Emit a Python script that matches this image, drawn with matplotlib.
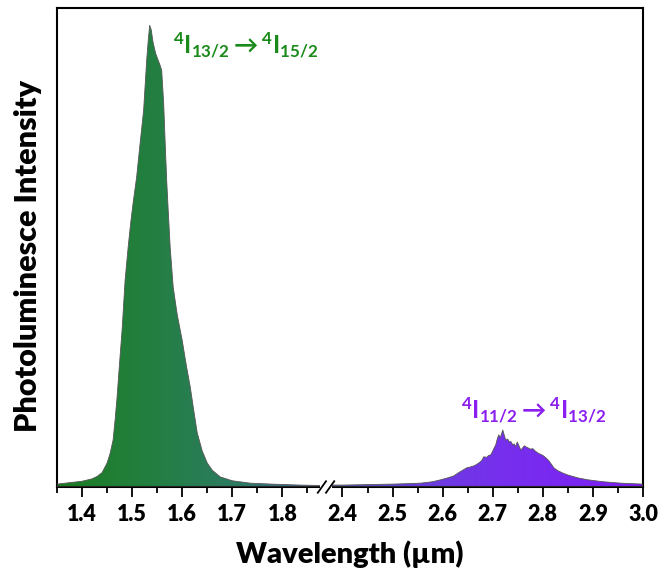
import numpy as np
import matplotlib
matplotlib.use("Agg")
import matplotlib.pyplot as plt
from matplotlib.colors import LinearSegmentedColormap
from matplotlib.patches import Rectangle

plt.rcParams['font.family'] = ['Lato', 'DejaVu Sans']
plt.rcParams['mathtext.fontset'] = 'custom'
plt.rcParams['mathtext.rm'] = 'Lato:bold'
plt.rcParams['mathtext.it'] = 'Lato:bold'
plt.rcParams['mathtext.bf'] = 'Lato:bold'
plt.rcParams['mathtext.fallback'] = 'stixsans'

# 4I13/2 -> 4I15/2 band (um, normalised intensity)
wl1 = [1.35, 1.40, 1.42, 1.43, 1.44, 1.45, 1.456, 1.462, 1.466, 1.47,
       1.475, 1.48, 1.486, 1.492, 1.497, 1.502, 1.509, 1.516, 1.523, 1.529,
       1.532, 1.535, 1.538, 1.542, 1.547, 1.552, 1.556, 1.559, 1.563, 1.566,
       1.569, 1.572, 1.576, 1.582, 1.59, 1.60, 1.608, 1.616, 1.623, 1.63,
       1.64, 1.65, 1.66, 1.676, 1.70, 1.736, 1.78, 1.836, 1.882]
int1 = [0.006, 0.012, 0.017, 0.022, 0.03, 0.05, 0.07, 0.098, 0.14, 0.188,
        0.26, 0.328, 0.432, 0.5, 0.55, 0.593, 0.647, 0.718, 0.787, 0.89,
        0.93, 0.964, 0.955, 0.927, 0.905, 0.891, 0.88, 0.87, 0.8, 0.718,
        0.64, 0.578, 0.5, 0.417, 0.36, 0.306, 0.255, 0.209, 0.16, 0.113,
        0.075, 0.05, 0.035, 0.021, 0.013, 0.008, 0.006, 0.004, 0.003]

# 4I11/2 -> 4I13/2 band
wl2 = [2.362, 2.40, 2.45, 2.50, 2.53, 2.556, 2.58, 2.596, 2.61, 2.622,
       2.632, 2.64, 2.648, 2.656, 2.662, 2.666, 2.672, 2.678, 2.682, 2.688,
       2.692, 2.696, 2.700, 2.703, 2.706, 2.709, 2.712, 2.715, 2.718, 2.720,
       2.723, 2.726, 2.730, 2.733, 2.736, 2.740, 2.743, 2.746, 2.749, 2.752,
       2.756, 2.760, 2.763, 2.766, 2.770, 2.775, 2.780, 2.785, 2.790, 2.796,
       2.800, 2.806, 2.812, 2.818, 2.822, 2.83, 2.84, 2.85, 2.87, 2.89,
       2.92, 2.956, 3.0]
int2 = [0.004, 0.004, 0.005, 0.006, 0.007, 0.008, 0.011, 0.015, 0.019, 0.023,
        0.03, 0.035, 0.04, 0.042, 0.044, 0.046, 0.05, 0.055, 0.063, 0.062,
        0.066, 0.067, 0.075, 0.082, 0.088, 0.1, 0.109, 0.103, 0.112, 0.119,
        0.108, 0.098, 0.1, 0.094, 0.095, 0.088, 0.09, 0.084, 0.094, 0.087,
        0.077, 0.082, 0.086, 0.084, 0.082, 0.079, 0.08, 0.075, 0.071, 0.068,
        0.066, 0.061, 0.055, 0.046, 0.04, 0.034, 0.029, 0.025, 0.019, 0.015,
        0.011, 0.008, 0.006]

major_ticks = [1.4, 1.5, 1.6, 1.7, 1.8, 2.4, 2.5, 2.6, 2.7, 2.8, 2.9, 3.0]
minor_ticks = [1.35, 1.45, 1.55, 1.65, 1.75, 1.85, 2.45, 2.55, 2.65, 2.75, 2.85, 2.95]

# broken axis: squeeze out 1.882 .. 2.362
BREAK = 1.882
GAP = 0.48


def fwd(x):
    x = np.asarray(x, dtype=float)
    return np.where(x < 2.1, x, x - GAP)


def inv(x):
    x = np.asarray(x, dtype=float)
    return np.where(x <= BREAK, x, x + GAP)


fig = plt.figure(figsize=(6.63, 5.74), dpi=100)
ax = fig.add_axes([57 / 663, 87 / 574, 586 / 663, 479 / 574])
ax.set_xscale('function', functions=(fwd, inv))

wl = np.array(wl1 + wl2)
inten = np.array(int1 + int2)

poly = ax.fill_between(wl, 0, inten, facecolor='none', edgecolor='#555555',
                       linewidth=0.6, zorder=3)

cmap = LinearSegmentedColormap.from_list('pl', [
    (0.00, '#1b7d22'), (0.18, '#247f45'), (0.32, '#2e7a66'),
    (0.42, '#45699f'), (0.50, '#5656c8'), (0.60, '#6840dc'),
    (0.75, '#7630ec'), (1.00, '#7e1ff6')])
grad = np.linspace(0, 1, 512).reshape(1, -1)
im = ax.imshow(grad, cmap=cmap, aspect='auto', extent=[0, 1, 0, 1],
               transform=ax.transAxes, zorder=2)
im.set_clip_path(poly.get_paths()[0], transform=poly.get_transform())

ax.set_xlim(1.35, 3.0)
ax.set_ylim(0, 1)

ax.set_xticks(major_ticks)
ax.set_xticklabels(['%.1f' % t for t in major_ticks], fontweight='heavy')
ax.set_xticks(minor_ticks, minor=True)
ax.set_yticks([])
ax.tick_params(axis='x', which='major', length=7, width=1.3, labelsize=15.5, pad=5)
ax.tick_params(axis='x', which='minor', length=4, width=1.3)
for sp in ax.spines.values():
    sp.set_linewidth(1.5)

ax.set_xlabel('Wavelength (\u00b5m)', fontsize=21, fontweight='heavy', labelpad=11)
ax.set_ylabel('Photoluminesce Intensity', fontsize=22, fontweight='heavy')
ax.yaxis.set_label_coords(-0.026, 0.482)

ax.text(1.726, 0.923, r'$^4\mathrm{I}_{13/2}\rightarrow{}^4\mathrm{I}_{15/2}$',
        color='#1a8a1a', fontsize=17.5, ha='center', va='center')
ax.text(2.782, 0.161, r'$^4\mathrm{I}_{11/2}\rightarrow{}^4\mathrm{I}_{13/2}$',
        color='#8a1ff0', fontsize=17.5, ha='center', va='center')

# break marks on the bottom axis
bx = (326 - 57) / 586
ax.add_patch(Rectangle((bx - 0.01, -0.012), 0.02, 0.024, transform=ax.transAxes,
                       facecolor='white', edgecolor='none', clip_on=False, zorder=5))
for off in (-0.007, 0.007):
    ax.plot([bx + off - 0.007, bx + off + 0.007], [-0.012, 0.012], color='black',
            linewidth=1.3, transform=ax.transAxes, clip_on=False, zorder=6)

fig.savefig('out.png', dpi=100)
